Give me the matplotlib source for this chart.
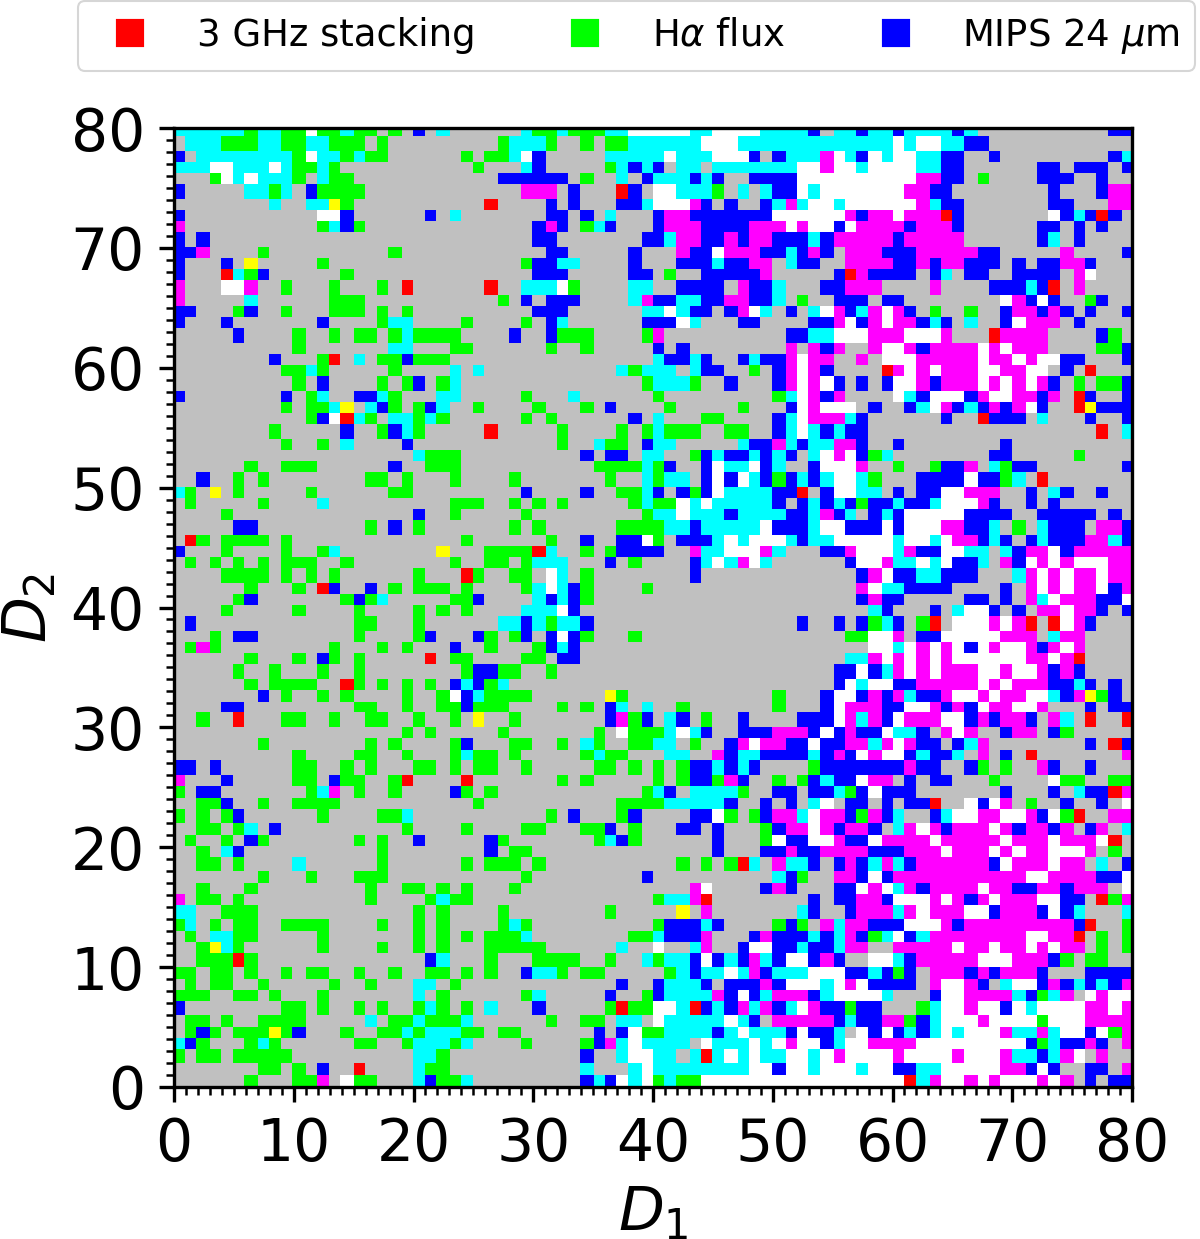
import numpy as np
import matplotlib
matplotlib.use("Agg")
import matplotlib.pyplot as plt
from matplotlib.colors import ListedColormap

# cell codes, top row (D2 = 79-80) first
# . none, r 3 GHz, g Halpha, b MIPS, y r+g, m r+b, c g+b, w all three
left_cols = [
    "ccccccgccggwggcgg.g.b.c",
    ".cccgggccggccggg.g",
    "b.ccccccccgwccgcgg......g.g",
    "cccwwcccwcggcg...........g",
    "...gwcwcccg.cgg",
    "b.....ccgc.bgggg",
    "........c..ccyg...........r",
    "b...........wwb......b.c",
    "m...........gcbg",
    "b.b",
    "bbm....g..........g",
    "b...b.y.....g",
    "b...rcgb......g",
    "m...wwm..g...g...g.r......r",
    "m.....c......ggg",
    "bb...gb..g...ggg.g.g",
    "b...b.......b....gcc....g",
    ".....b....g..g.gg.gcgggg",
    "..........g.......cc...gg",
    "........b...gr.c.ggbggg",
    ".........ggcg.....g....c.c",
    "..........g.b....g.gb.gc",
    "b........b.gc..bbcg...cc",
    ".........g.ggcy.cbg.gbc..g",
    "...........gbwrcg.ccgcg",
    "........g.....b..gbcg.....r",
    ".........g..g.c....b",
    "....................cggg",
    "......g..ggg......b..ggg",
    "..b..g.g........gg.g...g",
    "cg.y.g.....g......gg",
    ".g.....g....c..........ggg",
    "....g...............b..g",
    ".....bb.........g.b.g",
    ".rg.gggg.g..............g",
    "b...g....g..gc........y...g",
    ".g.g.g.g.ggg..g........g..g",
    "....gggg.g.g.g......g...rg",
    "......g...g.rb..b.g.ggg.g",
    ".....gb.......gbgc.....ggb",
    "....g.....g....g....g.g.g",
    ".b.............gg...g",
    "...g.bb........g....gb...bg",
    ".gmg.........g...g.g...b..g",
    "......g...g.bg.g.....r.gg",
    ".....g..g...g..g........gbb",
    "......g.gggg..rg.g.g.g.bcbg",
    ".......b.g..g.g....g..gwbcg",
    "....bb.........gg..g..ggbgg",
    "..g..r...gg..g..gg..g..g.y",
    "...................g.g",
    ".......g........g.g....gb",
    "..........g....gg..g...gcgg",
    "bb.b......gg..g.g...gg.g.gg",
    "m...b.....gg.bgg..gr....r",
    "g.bb.......gcm.g..g....bg.g",
    "..ggb..g..gggg...........g",
    "g.g.gb......g....ggc",
    "..gg.gc.b..........g....g",
    ".g..g.bg.......g.g..b.....b",
    "..g.cb...........g........b",
    "..gg.g....c......g......g.g",
    ".......g...g...ggg",
    "..g...g.........g..gg.g.g",
    "m.gg.g..........g....gcgg",
    "cc..ggg.............g.g",
    "gc.g.gg..gggg....g..g.g",
    ".g.ccgg.....g.......g.g.g.g",
    "..gycg......g....g..g.g...g",
    "..gggrg..............bc...g",
    "gg.gg.g..g.gg..g..g..gg.g.g",
    ".g.gg..g.....g..g...cc.g",
    "ggg..gg.g...g.......c.g",
    "b........gg.g..g.g..gcg.g.c",
    ".gg.g..gggg.....c.ggcgggc",
    ".gbg.gggygb...g..ggcgcccgg",
    "cbg...gcg......gg..gcccgc",
    "g.gg.ggggg..........ccg",
    ".......gg.g.b..r....cgg",
    "......g...ggm.wgg...cbggc",
]
mid_cols = [
    "..cggcgggccwwwwwccwwwwcccc",
    "gcccg..g.ggccccccwwwcccccc",
    "gcwb.....cccccwcccwwwb.bcc",
    "..cb.....gcbcb.cc.cccccccw",
    "bbbbbb.g..c.bcccbcb..bbbbw",
    "..mmm.b...rb.wwcccg.c.cbbw",
    "....b.b...bbcwwwmb.b..bcmc",
    "....bb.b.c...bmmbbbbbbbwww",
    "...bmb.gcb...bmmmbbbbmmmwm",
    "...bb.......bbcmmbbmbmmbbb",
    "....bb.....b...mbbwmmmbbcb",
    "..gbbcc....b...bbbcbbmm.cb",
    "...bbb.....bb.g..bbbbbm...",
    "..cccwg....cc..bbbb.mbbc..",
    "g.b.bbb....cmbbccbbmmbbc.g",
    "...bbb......ccwcbb.bmwc.b.",
    "..g.bc......bbbwc...bb....",
    ".b..bggg....gm..........bb",
    "....g..g.....b.b........m.",
    ".............cbbcb..bcbbmw",
    "..........cgccc.cbb..g.bmw",
    "............gcccg..b...bmw",
    "..g...c......g.........gcw",
    "...g...g.b....g.....g...bw",
    "..g.g......b.c...gg....bcw",
    ".....g....g.gcggg..gg..bcw",
    ".....g..cgg.bcc.....cbbmcb",
    ".......b.bb.cc..gbcbbcbcb.",
    "........ggggcgb..bwccwbc..",
    ".g.......g..cgcc.bwbwcbgbc",
    "..b....b..ggcb.bgbwccccbbr",
    ".g.g.g.....gcggwcwcccccb.b",
    "..g.........gccwcccbccccbb",
    ".g.g......ggggccbcccccwbbb",
    "....g..b..bbwg.bbbcwcwwwcb",
    "gggrc..g.gbbbb..mccwwwmc..",
    "g.gccc...b.g....bcwcmwc...",
    ".gg.wc.g........b.........",
    "..gcwcbg....g.............",
    "...cbcbg",
    "..cccwb",
    "ccbcgccb.................b",
    ".gb.bwbg...g",
    "...gbcb",
    "..gg.bb",
    "gg..g",
    "c",
    "ggg......yg............g",
    "g....g.g.bc.c..g.......g",
    ".g.......bmgb.cb.g..b....b",
    "g.......g.wgggcwcb..bbbmmm",
    ".gg..g.cg..ggcc.g..bmwmmbb",
    ".g.....gcgg...cc..mbccbbbb",
    "..g.....gg.g.g.gbbcbcb....",
    ".....g.g.....g.gbbgmb..g.g",
    "............gcb.ccccg..bb.",
    "..........ggggcccccb..b.b.",
    "....g.b...gb....bbwg.gbmmc",
    "..gg...ggb.g...bb.b...gbmm",
    "g.......gcbg......b...gwbb",
    ".gg...............b...bbmb",
    "gg.g...........g.g.grc.mcc",
    "..g.........b..........cbg",
    ".g..............mw....bmb.",
    ".............gccmr",
    "g........g.....y.m.......c",
    "gcg..........gbbbcb....gbg",
    "ggc........ggcbbbm...bmbbb",
    "gggg......c..w..cm..bwwbbc",
    "...gggg..g..cgccbwbcbmcbww",
    "..bccg.gg.....gcbccwcmbccc",
    "..........b..bcccb.bbbmbww",
    "..gc.....b..gbccccmbwbcmmm",
    "...b.....grggwwcrbcbmcmbcw",
    "....g..gg.cc.wcccccwcb.mmm",
    "gg......b.bwggccccbcwcccbw",
    "..g....gbmcwcccc.wcccwcwmw",
    ".......b..cwwcc.crcwcwccww",
    ".......c...cwccccccccwwbww",
    ".......bcbwcwgcggwwwwwwwww",
]
right_cols = [
    "b.ccbccbccccbc...........bb",
    "cccccccwcwwccbb",
    "cmwcbwcwwccbb..b.........bc",
    "wmwwcwwwwccbb......bb.bbb.b",
    "wwwwwwwwwmmbb.g....bbb..b..",
    "cwwwwwwwmmbb........b...bmm",
    "wwcwwwwwwmcbb.......bb...mm",
    "wwwmbmmwmmmrb.......wbcbrb.",
    "wwbwmmmmbmmmb......bb.b.b..",
    "cbmmmmmbmmmmm......bc.b....",
    "mb.mmmbbbmmmmmbb.....m....b",
    "b..mmmmbbmbmmbbb.b.bbmmb...",
    "..brmbbbb.bc.bb..bbbb.mw...",
    ".bbmmm....m....bbbcbr.m....",
    "..bbb.bb........wmbwb..gb..",
    "cwmbcmwmb.g..g..bmmbmb.b..b",
    "bbmwbmwmmbcb.c..bwmmm.b....",
    "ccwwwmmmwwwm...rmmmm....bg.",
    "mbm..mwwmbmmmmwmwmmm....ggb",
    "mm..m.wwwmmmmmwmmwmwwbb...b",
    "mb....rmwmwmmmwwmmww.b.r...",
    "mwb.b.bwwmbmmmwmwmwmb.g.ggb",
    "mbm....wcbwwwbmwwmmbm.rb..b",
    "mwww.b..bcwmbcbmbmwb..rybbb",
    "mmmcb......b..rbbb.c...b..b",
    "cbcbb...................r.c",
    "ccmmb..b........b",
    "cwmwbgc........bb.....g",
    "bwwwm..g..gbbm.cgbb.......b",
    "bcwwcg...bbbbwbbgc.r",
    ".bwwcc.b.bbwwmmm..b.cb..b",
    "cbcbgbbcbbcwwwmb..b.b",
    "cmbc.bcbwwwwwbbbb..bbbbb.b.",
    "cwwbbbwbwwwmmbbc.g.cbbb.mmb",
    "ccwwwwwcwwcwmmbcb.bcbbbmmcb",
    ".bbmwwwcmbbwwcc.cbmmwbmmmmm",
    "...bwwmccwcwbbc.mbwmwmwwwmm",
    "....bmwbbccbbb...cmwmwmmwmm",
    "....mwccbbbb....b.mwmwmmwbm",
    "....bmbb.....bb.b.mcwmmmbbw",
    ".....cb...b.cwwb.b.mmwmmb.b",
    "..b.bgcb.gr.wwwmwmr.rwmb...",
    "...ggwwm.bbwwwwwmmm.cmm....",
    ".....wwcwmwmwbwmwwmbmwm....",
    "...ccmwmwmwmwwwwwwmmwmr....",
    "..bbwbcmwmwmmmwwmwwmbmb....",
    "..bwcwwbbmmmmmwmwmmmbbcb.b.",
    ".bwwbmbmcbbmwwmwmmwwcbmygb.",
    ".bwmmmbbwwmbmbwmmwwm...b.bb",
    "bbwmcmbwmmmwwbmbmmb.mc.r..r",
    "bwbmbbwccb.mwm..bmm.bg.....",
    "wbbmmcmwmbb.bcm........b.rb",
    "cbmbwmwwbcbbc.m.b.r.......m",
    "gbbbbbbbmbb..bg.g..mb..b...",
    "bcbbwmm.b.bb...g....wgg..gg",
    "bbcgbwbbb.......b...b.cbbrm",
    "cw.bb.b.bbr..wbwm.g..b..b.w",
    "wmmbgmbc..bcwwmmwwmbwgr..mm",
    "wmbmmb.cmwmbmmmwmbmmbm.bm.c",
    "wwmbbwmmmmwmmmmmwmmmwmmmwr.",
    "bmmmmbbbmmmwmmmwmwmmwwwm.g.",
    "b.bmbcmcbmmmmmmbwmmmwmm.c.b",
    "..mmbwbmmmmmmmmmmmwwmmmmbbw",
    "..bbwmwcmbmmmmwmmbbmmbmmm.w",
    "b.bbmmbwwwmwmbmwmmmwwbb.rgm",
    "b..bmmmcmwmmmwwbmmmbwbc...c",
    ".mcmmbbbwwwmbmmmmmmmmmbr..g",
    "cbcmbgcwbcmmmmmmmmwwmmr.g.g",
    "bbcmm..mmmmmwmmwmmwmwmm.g.g",
    "bmb..wwcbmmmmmwwwmmmbg.gg..",
    "wwwbbcbgb.mmmbmbmmmb...bbbb",
    "wcwmwbbbb.mwwmb.cwwbmbcbcbm",
    "bcwwwwc...bwwmmmmcbgcm.wmww",
    "mbbgbb...gcwwmwwbwcwwwwmmwm",
    "mmbcbbmmgbcwwwmwwwwgwwwmmmm",
    "bbc.wbwbcbcwcwwwmccmcwwbwgm",
    "wbcwwmmmmwwwwwwwwwbgcbbmb.m",
    "cwmwwwwmwwwwmwwwmccbcmw.m..",
    "cwwwcwwbbccwwwwwmmbwb..bb.m",
    "wwwwwwwwrcmwwmwmwwwmwm.b.bb",
]

codes = ".rgbymcw"
colors = ["silver", "red", "lime", "blue", "yellow", "magenta", "cyan", "white"]
legend_labels = ["3 GHz stacking", r"H$\alpha$ flux", r"MIPS 24 $\mu$m"]

grid = np.zeros((80, 80), dtype=int)
for i in range(80):
    row = left_cols[i].ljust(27, ".") + mid_cols[i].ljust(26, ".") + right_cols[i].ljust(27, ".")
    grid[i] = [codes.index(ch) for ch in row]

fig = plt.figure(figsize=(4.0, 4.13), dpi=300)
ax = fig.add_axes([174 / 1200, 1 - 1087 / 1239, 958 / 1200, 959 / 1239])

# the cells are not quite even in the picture, every fourth one is wider
k = np.arange(81)
x_edges = np.clip(k + (np.array([-1.0, -1.3, -2.0, 0.0])[k % 4] + 1.5 * k / 80) / 12, 0, 80)
y_edges = np.clip(80 - (k + (np.array([-2.9, -4.0, -1.2, -2.0])[k % 4] + 1.7 * k / 80) / 12), 0, 80)
ax.pcolormesh(x_edges, y_edges, grid, cmap=ListedColormap(colors), vmin=0, vmax=7,
              shading="flat", antialiased=False)
ax.set_xlim(0, 80)
ax.set_ylim(0, 80)

ax.set_xticks(np.arange(0, 81, 10))
ax.set_yticks(np.arange(0, 81, 10))
ax.set_xticks(np.arange(0, 81, 1), minor=True)
ax.set_yticks(np.arange(0, 81, 1), minor=True)
ax.tick_params(labelsize=14)
ax.set_xlabel("$D_1$", fontsize=14.3, labelpad=2.7)
ax.set_ylabel("$D_2$", fontsize=14.3, labelpad=2.7)

handles = []
for name, col in zip(legend_labels, ["red", "lime", "blue"]):
    handles.append(ax.plot([], [], "s", color=col, ms=5.8, label=name)[0])
leg = fig.legend(handles=handles, ncol=3, fontsize=8.9, loc="upper left", columnspacing=1.97,
                 bbox_to_anchor=(78 / 1200, 1 - 1 / 1239), borderaxespad=0)
leg.get_frame().set_linewidth(0.5)

fig.savefig("out.png", dpi=300)
